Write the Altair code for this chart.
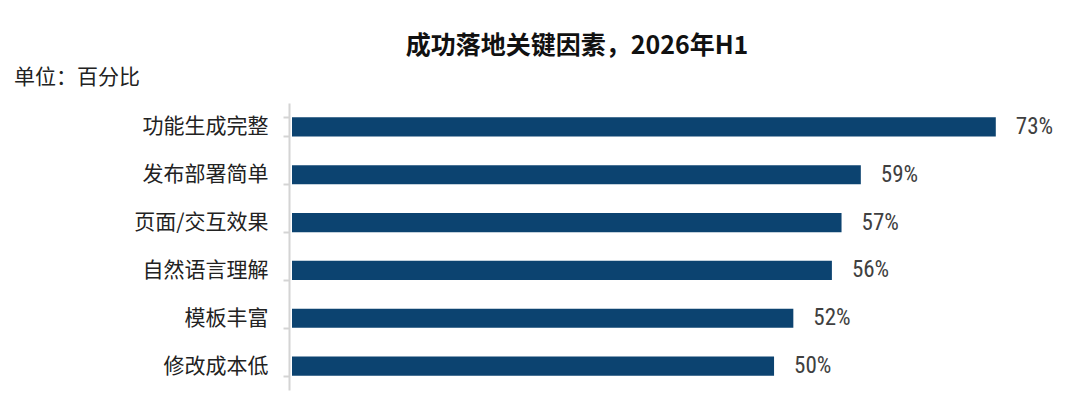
import altair as alt
import pandas as pd

categories = ["功能生成完整", "发布部署简单", "页面/交互效果", "自然语言理解", "模板丰富", "修改成本低"]
values = [73, 59, 57, 56, 52, 50]
value_labels = ["73%", "59%", "57%", "56%", "52%", "50%"]
title_text = "成功落地关键因素，2026年H1"
unit_text = "单位：百分比"

df = pd.DataFrame({"cat": categories, "val": values, "lab": value_labels})

y_enc = alt.Y(
    "cat:N",
    sort=None,
    scale=alt.Scale(paddingInner=0.6, paddingOuter=0.3),
    axis=alt.Axis(
        title=None,
        domainColor="#d4d4d4",
        domainWidth=2,
        tickColor="#d4d4d4",
        tickWidth=2,
        tickSize=6,
        tickBand="extent",
        labelPadding=15,
        labelFont="Noto Sans CJK SC",
        labelFontSize=21,
        labelColor="#222222",
        offset=3,
        grid=False,
    ),
)
x_enc = alt.X("val:Q", scale=alt.Scale(domain=[0, 78]), axis=None)

bars = alt.Chart(df).mark_bar(color="#0c4370").encode(x=x_enc, y=y_enc)

labels = alt.Chart(df).mark_text(
    align="left", baseline="middle", dx=20,
    font="Liberation Sans Narrow, Roboto Condensed, Liberation Sans",
    fontSize=23, color="#404040",
).encode(x=x_enc, y=y_enc, text="lab:N")

title = alt.Chart(pd.DataFrame({"t": [title_text]})).mark_text(
    align="center", baseline="middle", font="Noto Sans CJK SC",
    fontWeight="bold", fontSize=25, color="#111111",
).encode(text="t:N", x=alt.value(285), y=alt.value(-57))

unit = alt.Chart(pd.DataFrame({"t": [unit_text]})).mark_text(
    align="left", baseline="middle", font="Noto Sans CJK SC",
    fontSize=21, color="#222222",
).encode(text="t:N", x=alt.value(-278), y=alt.value(-25))

chart = alt.layer(bars, labels, title, unit).properties(
    width=752, height=287,
    padding={"left": 284, "top": 95, "right": 28, "bottom": 5},
    autosize=alt.AutoSizeParams(type="none"),
    background="white",
).configure_view(stroke=None, strokeWidth=0)

chart.save("out.html", embed_options={"renderer": "svg", "actions": False})
